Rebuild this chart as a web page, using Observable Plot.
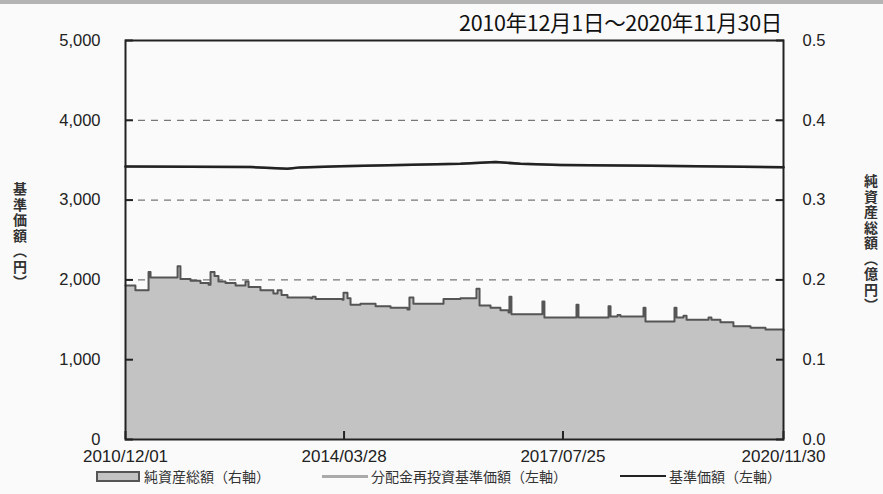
<!DOCTYPE html>
<html>
<head>
<meta charset="utf-8">
<script src="https://cdn.jsdelivr.net/npm/d3@7"></script>
<script src="https://cdn.jsdelivr.net/npm/@observablehq/plot@0.6"></script>
<style>
  html, body { margin: 0; padding: 0; background: #fafafa; }
  #wrap { position: relative; width: 883px; height: 494px; overflow: hidden; background: #fafafa; border-top: 4px solid #b4b4b4; box-sizing: border-box; }
  #chart { position: absolute; left: 0; top: -4px; }
  .title { position: absolute; right: 101px; top: 2px; font: 21.5px "Noto Sans CJK JP", sans-serif; color: #111; letter-spacing: -0.3px; }
  .vlab { position: absolute; writing-mode: vertical-rl; text-orientation: upright; font: bold 14px "Noto Sans CJK JP", sans-serif; color: #333; line-height: 1; letter-spacing: 1.5px; }
  .legend { position: absolute; top: 463px; left: 0; width: 883px; font: 14px/18px "Noto Sans CJK JP", sans-serif; color: #333; }
  .item { position: absolute; display: flex; align-items: center; white-space: nowrap; }
  .box { width: 40px; height: 7px; background: #c3c3c3; border: 2px solid #555; margin-right: 4px; }
  .ln { width: 46px; height: 0; margin-right: 3px; }
</style>
</head>
<body>
<div id="wrap">
  <div id="chart"></div>
  <div class="title">2010年12月1日～2020年11月30日</div>
  <div class="vlab" style="left:13px; top:178px;">基準価額（円）</div>
  <div class="vlab" style="left:864px; top:170px;">純資産総額（億円）</div>
  <div class="legend">
    <div class="item" style="left:96px;"><span class="box"></span>純資産総額（右軸）</div>
    <div class="item" style="left:322px;"><span class="ln" style="border-top:3px solid #aaa;"></span>分配金再投資基準価額（左軸）</div>
    <div class="item" style="left:620px;"><span class="ln" style="border-top:2px solid #222;"></span>基準価額（左軸）</div>
  </div>
</div>
<script>
// 純資産総額（億円）
const assetDates = ["2010-12-01","2011-01-25","2011-04-08","2011-04-19","2011-09-16","2011-10-02","2011-11-27","2012-01-21","2012-03-06","2012-03-17","2012-04-08","2012-04-30","2012-06-08","2012-08-03","2012-09-27","2012-10-14","2012-12-19","2013-03-01","2013-03-24","2013-04-15","2013-05-18","2013-09-23","2013-10-04","2013-10-21","2014-03-19","2014-03-25","2014-04-16","2014-05-03","2014-06-27","2014-09-19","2014-12-11","2015-03-15","2015-03-26","2015-04-17","2015-10-01","2016-01-03","2016-03-21","2016-04-01","2016-04-18","2016-06-18","2016-08-12","2016-09-26","2016-10-01","2016-10-12","2017-04-02","2017-04-13","2017-10-08","2017-10-19","2018-04-04","2018-04-15","2018-05-24","2018-06-09","2018-10-15","2018-10-26","2019-04-05","2019-04-16","2019-05-25","2019-06-11","2019-09-30","2019-10-11","2019-10-27","2019-12-16","2020-02-26","2020-05-31","2020-08-22","2020-11-30"];
const assetValues = [0.193,0.187,0.210,0.203,0.217,0.201,0.199,0.196,0.194,0.210,0.205,0.198,0.196,0.193,0.198,0.191,0.187,0.183,0.187,0.181,0.178,0.177,0.179,0.176,0.175,0.184,0.177,0.169,0.170,0.167,0.165,0.163,0.178,0.170,0.176,0.177,0.177,0.189,0.168,0.165,0.162,0.159,0.179,0.157,0.173,0.153,0.169,0.153,0.167,0.154,0.156,0.154,0.165,0.148,0.165,0.153,0.155,0.150,0.150,0.153,0.150,0.147,0.142,0.140,0.138,0.137];

// 基準価額（円）
const baseDates = ["2010-12-01","2012-10-25","2013-05-18","2013-07-29","2014-03-08","2015-02-04","2016-01-03","2016-07-16","2016-12-01","2017-07-11","2018-11-23","2019-12-16","2020-11-30"];
const baseValues = [3420,3415,3392,3410,3425,3440,3455,3478,3455,3440,3430,3420,3412];
// 分配金再投資基準価額（円）— identical to 基準価額 (hidden beneath it)
const reinvValues = [3420,3415,3392,3410,3425,3440,3455,3478,3455,3440,3430,3420,3412];

const xTickDates = ["2010-12-01","2014-03-28","2017-07-25","2020-11-30"];
const yLeftTicks = [0,1000,2000,3000,4000,5000];
const yRightTicks = [0,0.1,0.2,0.3,0.4,0.5];
const gridLevels = [1000,2000,3000,4000];

const parse = d3.utcParse("%Y-%m-%d");
const assets = assetDates.map((d,i) => ({date: parse(d), v: assetValues[i]}));
const base = baseDates.map((d,i) => ({date: parse(d), v: baseValues[i]}));
const reinv = baseDates.map((d,i) => ({date: parse(d), v: reinvValues[i]}));
const RATIO = 10000; // 0.1億円 ↔ 1,000円 on the shared scale

const font = '"Liberation Sans", Arial, sans-serif';
const chart = Plot.plot({
  width: 883,
  height: 498,
  marginLeft: 125,
  marginRight: 100,
  marginTop: 40,
  marginBottom: 59,
  style: {background: "transparent", fontFamily: font, fontSize: "17px", color: "#222"},
  x: {type: "utc", domain: [parse("2010-12-01"), parse("2020-11-30")]},
  y: {domain: [0, 5000]},
  marks: [
    Plot.ruleY(gridLevels, {stroke: "#777", strokeWidth: 1.3, strokeDasharray: "7,6"}),
    Plot.areaY(assets, {x: "date", y: d => d.v * RATIO, curve: "step-after", fill: "#c3c3c3"}),
    Plot.lineY(assets, {x: "date", y: d => d.v * RATIO, curve: "step-after", stroke: "#555", strokeWidth: 2}),
    Plot.lineY(reinv, {x: "date", y: "v", stroke: "#aaa", strokeWidth: 2.5}),
    Plot.lineY(base, {x: "date", y: "v", stroke: "#222", strokeWidth: 2.5}),
    Plot.frame({stroke: "#222", strokeWidth: 2}),
    Plot.axisY({anchor: "left", ticks: yLeftTicks, tickSize: -8, tickPadding: 33, tickFormat: d3.format(","), fontSize: 16.5, label: null, strokeWidth: 2}),
    Plot.axisY({anchor: "right", ticks: yRightTicks.map(v => v * RATIO), tickSize: -8, tickPadding: 27, tickFormat: d => (d / RATIO).toFixed(1), fontSize: 16.5, label: null, strokeWidth: 2}),
    Plot.axisX({ticks: xTickDates.map(parse), tickSize: -8, tickPadding: 18.5, tickFormat: d3.utcFormat("%Y/%m/%d"), fontSize: 17, label: null, strokeWidth: 2})
  ]
});
document.getElementById("chart").appendChild(chart);
</script>
</body>
</html>
